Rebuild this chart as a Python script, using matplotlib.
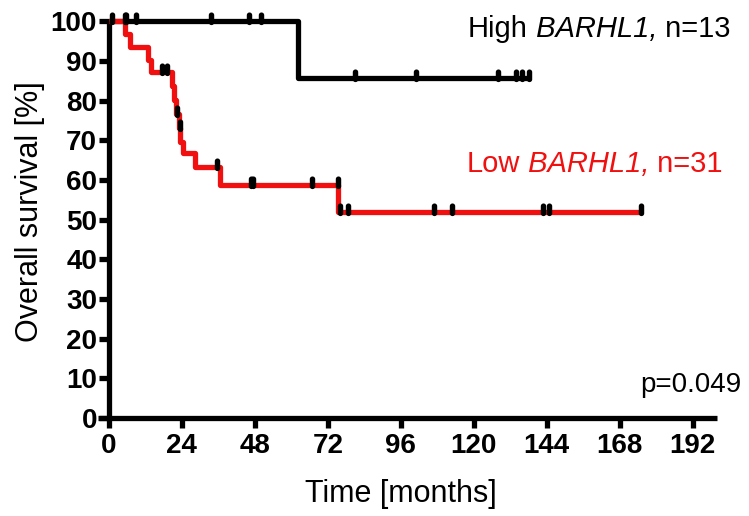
import numpy as np
import matplotlib
matplotlib.use("Agg")
import matplotlib.pyplot as plt
from matplotlib.transforms import offset_copy

plt.rcParams['font.family'] = ['Liberation Sans', 'DejaVu Sans']

# step curves: (time in months, survival % after the step)
high_t = [0, 62.2, 138]
high_s = [100, 85.7, 85.7]
high_cens = [1, 5.6, 9, 33.5, 46, 50, 81, 101, 128, 134, 136, 138]

low_t = [0, 5.3, 7, 12.8, 14, 20.8, 21.3, 22, 23, 23.5, 24.3, 28.3, 36.5, 75.3, 175]
low_s = [100, 96.8, 93.5, 90.3, 87.1, 83.6, 80.1, 76.6, 73.1, 69.6, 66.8, 63.3, 58.7, 51.8, 51.8]
low_cens = [5.3, 17.4, 19, 22.5, 23.5, 35.5, 46.7, 47.5, 66.8, 75.3, 76, 78.6,
            107, 113, 142.8, 144.7, 175]

xticks = [0, 24, 48, 72, 96, 120, 144, 168, 192]
yticks = [0, 10, 20, 30, 40, 50, 60, 70, 80, 90, 100]

red = '#f01010'

# rounded censor tick (stadium shape), sitting mostly above the line
r = 0.3
top = np.linspace(0, np.pi, 20)
bot = np.linspace(np.pi, 2 * np.pi, 20)
tick_marker = (list(zip(r * np.cos(top), 1 - r + r * np.sin(top))) +
               list(zip(r * np.cos(bot), -0.4 + r + r * np.sin(bot))))


def value_at(t, times, surv):
    i = np.searchsorted(times, t, side='left') - 1
    return np.array(surv)[np.clip(i, 0, len(surv) - 1)]


fig = plt.figure(figsize=(7.49, 5.16), dpi=100)
ax = fig.add_axes([0.1308, 0.19, 0.8265, 0.769])

ax.step(high_t, high_s, where='post', color='black', lw=3.8, clip_on=False,
        solid_capstyle='butt', zorder=3)
ax.step(low_t, low_s, where='post', color=red, lw=3.8, clip_on=False,
        solid_capstyle='butt', zorder=4)

ax.plot(high_cens, value_at(high_cens, high_t, high_s), ls='none', marker=tick_marker,
        ms=13, mew=0, color='black', clip_on=False, zorder=5)
ax.plot(low_cens, value_at(low_cens, low_t, low_s), ls='none', marker=tick_marker,
        ms=13, mew=0, color='black', clip_on=False, zorder=5)

ax.set_xlim(-3.6, 200)
ax.set_ylim(0, 100)
ax.spines['left'].set_position(('data', 0))
ax.spines['top'].set_visible(False)
ax.spines['right'].set_visible(False)
for s in ['left', 'bottom']:
    ax.spines[s].set_linewidth(3.8)
    ax.spines[s].set_capstyle('butt')

ax.set_xticks(xticks)
ax.set_yticks(yticks)
ax.tick_params(width=3.8, length=7.5, labelsize=20)
ax.tick_params(axis='y', pad=1)
ax.tick_params(axis='x', pad=3)
for lab in ax.get_xticklabels() + ax.get_yticklabels():
    lab.set_fontweight('bold')

ax.set_xlabel('Time [months]', fontsize=22)
ax.set_ylabel('Overall survival [%]', fontsize=22)
ax.xaxis.set_label_coords((96 + 3.6) / 203.6, -0.155)
ax.yaxis.set_label_coords(-0.085, 0.52)

renderer = fig.canvas.get_renderer()


def rich_text(x, y, parts, **kw):
    offset = 0
    for s, style in parts:
        tr = offset_copy(ax.transData, fig=fig, x=offset, y=0, units='dots')
        t = ax.text(x, y, s, transform=tr, style=style, va='baseline', **kw)
        offset += t.get_window_extent(renderer).width


rich_text(118, 96, [('High', 'normal'), (' BARHL1,', 'italic'), (' n=13', 'normal')],
          fontsize=21, color='black')
rich_text(117.5, 62, [('Low', 'normal'), (' BARHL1,', 'italic'), (' n=31', 'normal')],
          fontsize=21, color=red)
ax.text(208, 8.3, 'p=0.049', fontsize=20, ha='right', va='center')

fig.savefig('out.png', dpi=100)
